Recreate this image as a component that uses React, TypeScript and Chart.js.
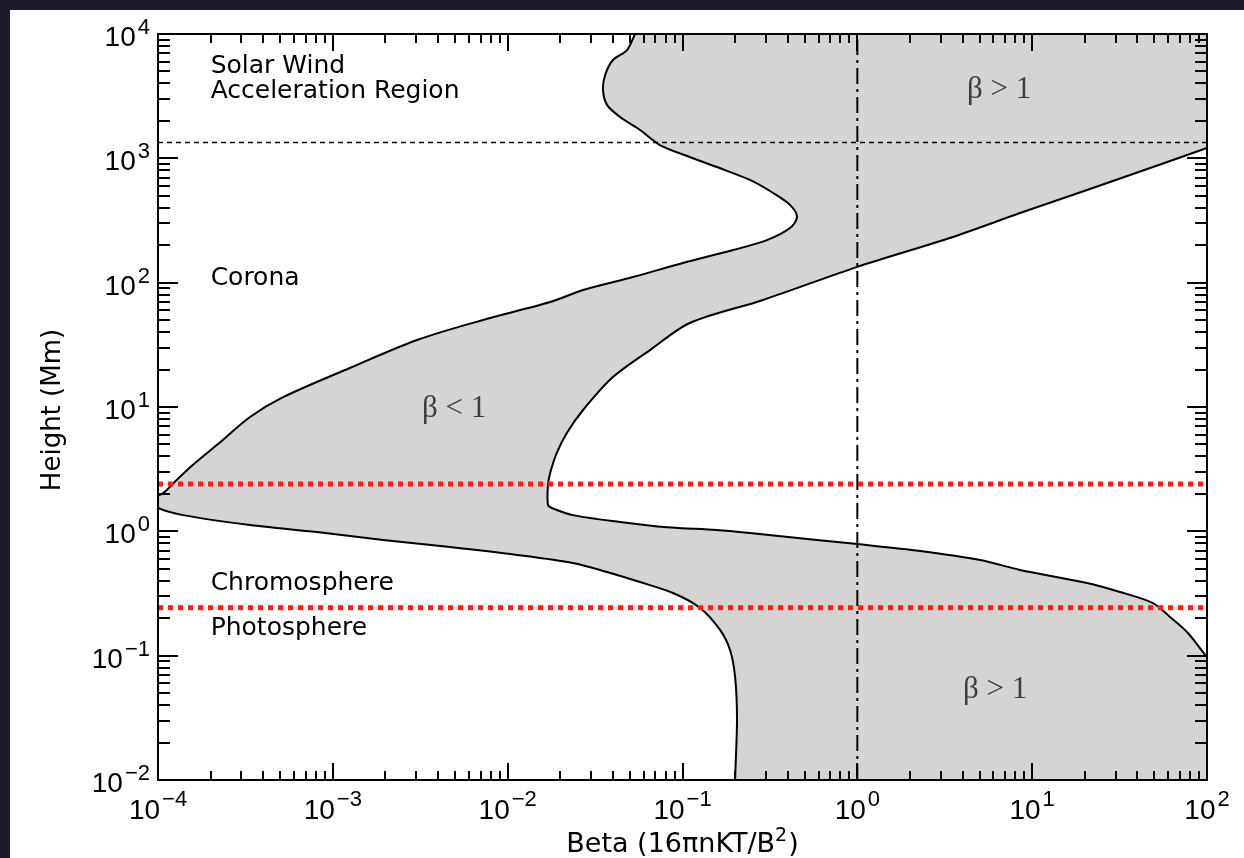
import React, { useEffect, useRef } from "react";
import { Chart, registerables } from "chart.js";

Chart.register(...registerables);

// Left edge of the shaded beta band (smallest beta at each height), top -> bottom
const betaMinValues = [
  0.0535, 0.0482, 0.04, 0.0361, 0.0351, 0.037, 0.0439, 0.0572, 0.0743, 0.11,
  0.157, 0.243, 0.33, 0.412, 0.452, 0.412, 0.304, 0.195, 0.1007, 0.0521,
  0.027, 0.0175, 0.00722, 0.00303, 0.00125, 0.000519, 0.000336, 0.000217, 0.000158, 0.000128,
  0.000107, 0.00009, 0.0001, 0.000139, 0.000336, 0.000811, 0.00194, 0.00468, 0.0113, 0.0236,
  0.037, 0.0571, 0.0883, 0.126, 0.164, 0.187, 0.2, 0.205, 0.2, 0.2,
];
const betaMinHeights = [
  10000, 7430, 6180, 4680, 3550, 2690, 2150, 1690, 1280, 1025,
  851, 670, 526, 422, 337, 275, 220, 183, 144, 111,
  87.3, 69.8, 50.1, 34.6, 20.6, 12.0, 8.3, 4.94, 3.41, 2.59,
  2.03, 1.79, 1.54, 1.35, 1.125, 0.987, 0.851, 0.748, 0.646, 0.556,
  0.471, 0.391, 0.319, 0.242, 0.161, 0.111, 0.0673, 0.0304, 0.01, 0.005,
];

// Right edge of the shaded beta band (largest beta at each height), top -> bottom
const betaMaxValues = [
  1000, 200, 100, 49.1, 20.6, 8.52, 3.52, 1.0, 0.289, 0.11,
  0.0652, 0.04, 0.027, 0.0218, 0.0191, 0.0175, 0.017, 0.017, 0.0179, 0.0236,
  0.044, 0.0815, 0.157, 0.243, 0.587, 1.0, 2.29, 5.04, 8.52, 20.6,
  31.8, 49.1, 61.4, 76.9, 100, 150, 1000,
];
const betaMaxHeights = [
  10000, 1690, 1211, 851, 556, 363, 233, 134, 72.6, 47.4,
  28.7, 17.4, 9.46, 6.18, 4.27, 2.94, 2.36, 1.63, 1.54, 1.35,
  1.19, 1.08, 1.025, 0.969, 0.851, 0.79, 0.695, 0.588, 0.489, 0.384,
  0.325, 0.265, 0.205, 0.155, 0.0975, 0.05, 0.005,
];

const xTickExponents = [-4, -3, -2, -1, 0, 1, 2];
const yTickExponents = [-2, -1, 0, 1, 2, 3, 4];
const minorMultipliers = [2, 3, 4, 5, 6, 7, 8, 9];

const solarWindBoundaryHeight = 1340;
const layerBoundaryHeights = [2.4, 0.243];
const betaUnity = 1;

const regionLabels = ["Solar Wind", "Acceleration Region", "Corona", "Chromosphere", "Photosphere"];
const regionLabelBeta = [2e-4, 2e-4, 2e-4, 2e-4, 2e-4];
const regionLabelHeight = [4850, 3055, 95.7, 0.337, 0.1466];

const betaLabels = ["β < 1", "β > 1", "β > 1"];
const betaLabelBeta = [3.24e-3, 4.24, 4.02];
const betaLabelHeight = [8.3, 3055, 0.0456];

const xTitleMain = "Beta (16πnKT/B";
const xTitleSup = "2";
const xTitleEnd = ")";
const yTitle = "Height (Mm)";

const X_MIN = 1e-4;
const X_MAX = 1e2;
const Y_MIN = 1e-2;
const Y_MAX = 1e4;

const CURVE_TENSION = 0.3;

const BASE_FONT = '28px "Liberation Sans"';
const EXP_FONT = '22px "Liberation Sans"';

function expText(e: number) {
  return e < 0 ? "\u2212" + Math.abs(e) : String(e);
}

const framePlugin = {
  id: "idlFrame",
  afterDatasetsDraw(chart: any) {
    const { ctx, chartArea: a, scales } = chart;
    const xs = scales.x;
    const ys = scales.y;
    ctx.save();

    // frame
    ctx.strokeStyle = "#000";
    ctx.lineWidth = 2;
    ctx.strokeRect(a.left, a.top, a.right - a.left, a.bottom - a.top);

    // ticks (inward, on all four sides)
    ctx.beginPath();
    for (const e of xTickExponents) {
      const mults = [1, ...minorMultipliers];
      for (const m of mults) {
        const v = m * Math.pow(10, e);
        if (v > X_MAX * 1.0001) continue;
        const px = Math.round(xs.getPixelForValue(v));
        const len = m === 1 ? 17 : 9;
        ctx.moveTo(px, a.bottom);
        ctx.lineTo(px, a.bottom - len);
        ctx.moveTo(px, a.top);
        ctx.lineTo(px, a.top + len);
      }
    }
    for (const e of yTickExponents) {
      const mults = [1, ...minorMultipliers];
      for (const m of mults) {
        const v = m * Math.pow(10, e);
        if (v > Y_MAX * 1.0001) continue;
        const py = Math.round(ys.getPixelForValue(v));
        const len = m === 1 ? 20 : 12;
        ctx.moveTo(a.left, py);
        ctx.lineTo(a.left + len, py);
        ctx.moveTo(a.right, py);
        ctx.lineTo(a.right - len, py);
      }
    }
    ctx.stroke();

    // tick labels 10^n
    ctx.fillStyle = "#000";
    ctx.textBaseline = "alphabetic";
    ctx.textAlign = "left";
    const measure = (e: number) => {
      ctx.font = BASE_FONT;
      const wb = ctx.measureText("10").width;
      ctx.font = EXP_FONT;
      const we = ctx.measureText(expText(e)).width;
      return { wb, we, total: wb + 2 + we };
    };
    for (const e of xTickExponents) {
      const px = xs.getPixelForValue(Math.pow(10, e));
      const m = measure(e);
      const left = px - m.total / 2;
      ctx.font = BASE_FONT;
      ctx.fillText("10", left, a.bottom + 39);
      ctx.font = EXP_FONT;
      ctx.fillText(expText(e), left + m.wb + 2, a.bottom + 26);
    }
    for (const e of yTickExponents) {
      const py = ys.getPixelForValue(Math.pow(10, e));
      const m = measure(e);
      const left = a.left - 8 - m.total;
      ctx.font = BASE_FONT;
      ctx.fillText("10", left, py + 12);
      ctx.font = EXP_FONT;
      ctx.fillText(expText(e), left + m.wb + 2, py);
    }

    // axis titles
    const TITLE_FONT = '27px "DejaVu Sans"';
    const SUP_FONT = '19px "DejaVu Sans"';
    ctx.font = TITLE_FONT;
    const wMain = ctx.measureText(xTitleMain).width;
    const wEnd = ctx.measureText(xTitleEnd).width;
    ctx.font = SUP_FONT;
    const wSup = ctx.measureText(xTitleSup).width;
    const totalTitle = wMain + wSup + 1 + wEnd;
    const cx = (a.left + a.right) / 2;
    let tx = cx - totalTitle / 2;
    const tb = a.bottom + 72;
    ctx.font = TITLE_FONT;
    ctx.fillText(xTitleMain, tx, tb);
    tx += wMain;
    ctx.font = SUP_FONT;
    ctx.fillText(xTitleSup, tx, tb - 11);
    tx += wSup + 1;
    ctx.font = TITLE_FONT;
    ctx.fillText(xTitleEnd, tx, tb);

    ctx.save();
    ctx.translate(50, (a.top + a.bottom) / 2 + 3);
    ctx.rotate(-Math.PI / 2);
    ctx.textAlign = "center";
    ctx.font = '26px "DejaVu Sans"';
    ctx.fillText(yTitle, 0, 0);
    ctx.restore();

    // region annotations
    ctx.textAlign = "left";
    ctx.font = '25px "DejaVu Sans"';
    ctx.fillStyle = "#000";
    regionLabels.forEach((t, i) => {
      ctx.fillText(t, xs.getPixelForValue(regionLabelBeta[i]), ys.getPixelForValue(regionLabelHeight[i]));
    });
    ctx.font = '31px "Liberation Serif"';
    ctx.fillStyle = "#3e3e3e";
    betaLabels.forEach((t, i) => {
      ctx.fillText(t, xs.getPixelForValue(betaLabelBeta[i]), ys.getPixelForValue(betaLabelHeight[i]));
    });

    ctx.restore();
  },
};

export default function App() {
  const canvasRef = useRef<HTMLCanvasElement>(null);

  useEffect(() => {
    const canvas = canvasRef.current;
    if (!canvas) return;
    const lower = betaMinValues.map((b, i) => ({ x: b, y: betaMinHeights[i] }));
    const upper = betaMaxValues.map((b, i) => ({ x: b, y: betaMaxHeights[i] }));
    const band = [...lower, ...upper.slice().reverse()];
    const hLine = (h: number) => [
      { x: X_MIN, y: h },
      { x: X_MAX, y: h },
    ];

    const chart = new Chart(canvas, {
      type: "line",
      data: {
        datasets: [
          {
            label: "beta band",
            data: band,
            fill: "shape",
            backgroundColor: "rgb(214,211,213)",
            borderColor: "rgba(0,0,0,0)",
            borderWidth: 0,
            pointRadius: 0,
            tension: CURVE_TENSION,
            order: 10,
          },
          {
            label: "beta min",
            data: lower,
            fill: false,
            borderColor: "#000",
            borderWidth: 2,
            pointRadius: 0,
            tension: CURVE_TENSION,
            order: 5,
          },
          {
            label: "beta max",
            data: upper,
            fill: false,
            borderColor: "#000",
            borderWidth: 2,
            pointRadius: 0,
            tension: CURVE_TENSION,
            order: 5,
          },
          {
            label: "solar wind boundary",
            data: hLine(solarWindBoundaryHeight),
            fill: false,
            borderColor: "#000",
            borderWidth: 1.6,
            borderDash: [5, 4],
            pointRadius: 0,
            order: 4,
          },
          {
            label: "beta = 1",
            data: [
              { x: betaUnity, y: Y_MIN },
              { x: betaUnity, y: Y_MAX },
            ],
            fill: false,
            borderColor: "#000",
            borderWidth: 2,
            borderDash: [16, 5, 3, 5],
            pointRadius: 0,
            order: 3,
          },
          ...layerBoundaryHeights.map((h) => ({
            label: "layer boundary " + h,
            data: hLine(h),
            fill: false,
            borderColor: "rgb(255,28,28)",
            borderWidth: 5,
            borderDash: [5, 5],
            pointRadius: 0,
            order: 1,
          })),
        ],
      },
      options: {
        animation: false,
        responsive: false,
        events: [],
        layout: { padding: { left: 148, top: 24, right: 37, bottom: 78 } },
        plugins: {
          legend: { display: false },
          tooltip: { enabled: false },
          title: { display: false },
        },
        elements: { point: { radius: 0 }, line: { tension: 0, capBezierPoints: false } },
        scales: {
          x: { type: "logarithmic", min: X_MIN, max: X_MAX, display: false },
          y: { type: "logarithmic", min: Y_MIN, max: Y_MAX, display: false },
        },
      },
      plugins: [framePlugin],
    } as any);

    return () => chart.destroy();
  }, []);

  return (
    <div style={{ position: "fixed", inset: 0, background: "#1b1b29" }}>
      <div
        style={{
          position: "absolute",
          left: 10,
          top: 10,
          width: 1234,
          height: 848,
          background: "#ffffff",
        }}
      >
        <canvas ref={canvasRef} width={1234} height={848} style={{ display: "block" }} />
      </div>
    </div>
  );
}
